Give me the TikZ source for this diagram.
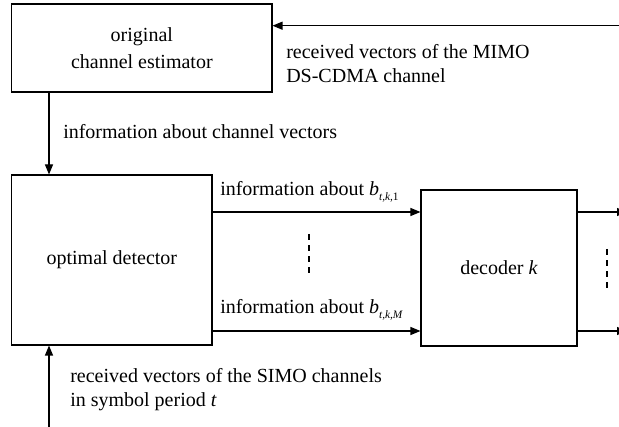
\documentclass[tikz,border=0pt]{standalone}
\usepackage{fontspec}
\setmainfont{Liberation Serif}
\usetikzlibrary{arrows.meta}

% b with a small italic subscript, set in the text font
\newcommand{\bvar}[1]{\textit{b}\raisebox{-0.55ex}{\fontsize{8.5}{8.5}\selectfont #1}}

\begin{document}
\begin{tikzpicture}[x=0.75pt,y=-0.75pt,
  every node/.style={font=\fontsize{15}{18}\selectfont},
  block/.style={draw,line width=0.8pt,inner sep=0pt,align=center},
  conn/.style={line width=0.8pt,-{Triangle[length=7.5pt,width=6pt]}},
  dots/.style={line width=0.8pt,dash pattern=on 4.5pt off 3.8pt},
  lbl/.style={anchor=west,inner sep=0pt,align=left}]
\useasboundingbox (0,0) rectangle (619,427);

% blocks
\node[block,minimum width=195.2pt,minimum height=66pt,
      font=\fontsize{15}{20}\selectfont] (est) at (141.85,48) {original\\channel estimator};
\node[block,minimum width=150.2pt,minimum height=127.5pt] (det) at (111.85,260) {optimal detector};
\node[block,minimum width=117pt,minimum height=117pt] (dec) at (499,268) {decoder \textit{k}};

% free ends and rows
\coordinate (inA) at (619,25.7);
\coordinate (inB) at (49,427);
\coordinate (row1) at (0,212);
\coordinate (row2) at (0,331);
\coordinate (out1) at (627,212);
\coordinate (out2) at (627,331);
\coordinate (colv) at (49,0);

% connectors
\draw[conn] (inA) -- (est.east |- inA);
\draw[conn] (est.south -| colv) -- (det.north -| colv);
\draw[conn] (inB) -- (det.south -| inB);
\draw[conn] (det.east |- row1) -- (dec.west |- row1);
\draw[conn] (det.east |- row2) -- (dec.west |- row2);
\draw[conn] (dec.east |- row1) -- (out1);
\draw[conn] (dec.east |- row2) -- (out2);

% ellipsis marks between the parallel lines
\coordinate (d1a) at (309,234);
\coordinate (d1b) at (309,276);
\coordinate (d2a) at (607,249);
\coordinate (d2b) at (607,291);
\draw[dots] (d1a) -- (d1b);
\draw[dots] (d2a) -- (d2b);

% labels
\node[lbl] (tin) at (286,63.5) {received vectors of the MIMO\\DS-CDMA channel};
\node[lbl] (tch) at (63,132) {information about channel vectors};
\node[lbl] (tb1) at (220,192) {information about \bvar{\textit{t,k,}1}};
\node[lbl] (tb2) at (220,310) {information about \bvar{\textit{t,k,M}}};
\node[lbl] (tsi) at (70,390) {received vectors of the SIMO channels\\in symbol period \textit{t}};
\end{tikzpicture}
\end{document}
